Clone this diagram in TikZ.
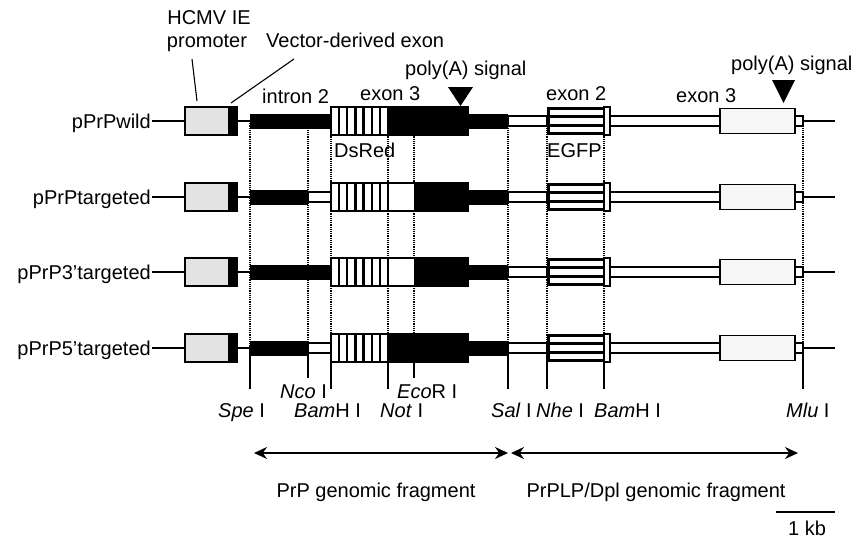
\documentclass[tikz,border=0pt]{standalone}
\usepackage{fontspec}
\setmainfont{Liberation Sans}
\usetikzlibrary{arrows.meta}
\newcommand\leftpart[1]{%
  \draw[wire] (152,#1) -- (835,#1);
  \fill[gray!22] (185,#1-14) rectangle (228,#1+14);
  \fill[black] (228,#1-14) rectangle (237,#1+14);
  \draw[ebox] (185,#1-14) rectangle (237,#1+14);
}
\newcommand\rightpart[1]{%
  \fill[black] (468,#1-7.5) rectangle (508,#1+7.5);
  \draw[hbar] (508,#1-5) rectangle (547,#1+5);
  \draw[hbar] (610,#1-5) rectangle (720,#1+5);
  \draw[hbar] (795,#1-5) rectangle (803,#1+5);
  \fill[white] (547,#1-14) rectangle (604,#1+14);
  \draw[line width=3pt] (547,#1-4.5) -- (604,#1-4.5);
  \draw[line width=3pt] (547,#1+4.5) -- (604,#1+4.5);
  \draw[line width=3pt] (548.5,#1-12.5) rectangle (604,#1+12.5);
  \draw[ebox,fill=white,line width=1.2pt] (604,#1-14) rectangle (610,#1+14);
  \draw[ebox,fill=gray!7] (720,#1-12.5) rectangle (795,#1+12.5);
}
\newcommand\dsred[1]{%
  \fill[white] (331,#1-14) rectangle (414,#1+14);
  \foreach \k in {1,...,6} {\draw[line width=2.4pt] ({331+\k*8.14},#1-14) -- ({331+\k*8.14},#1+14);}
  \draw[line width=1.5pt] (388,#1-14) -- (388,#1+14);
}
\newcommand\exframe[1]{\draw[ebox] (331,#1-14) rectangle (468,#1+14);}
\begin{document}
\begin{tikzpicture}[x=1pt,y=-1pt,
  lab/.style={inner sep=0pt, font=\fontsize{20}{22}\selectfont},
  wire/.style={line width=1.2pt},
  hbar/.style={fill=white, draw=black, line width=1.2pt},
  ebox/.style={draw=black, line width=1.5pt},
  site/.style={densely dotted, line width=1.2pt},
  sitesolid/.style={line width=1.2pt},
  fragarrow/.style={line width=1.3pt, {Stealth[length=13pt,width=12pt]}-{Stealth[length=13pt,width=12pt]}},
]
\useasboundingbox (0,0) rectangle (857,538);
\fill[white] (0,0) rectangle (857,538);

% restriction site lines
\foreach \xx in {250,308,331,388,414,508,547,604,803} {\draw[site] (\xx,121) -- (\xx,348);}
\foreach \xx in {250,331,388,508,547,604,803} {\draw[sitesolid] (\xx,348) -- (\xx,389);}
\foreach \xx in {308,414} {\draw[sitesolid] (\xx,348) -- (\xx,378);}

% row 1 wild
\leftpart{121}
\fill[black] (250,121-7.5) rectangle (331,121+7.5);
\dsred{121}
\fill[black] (388,107) rectangle (468,135);
\exframe{121}
\rightpart{121}
\fill (448,87) -- (473,87) -- (460.5,106) -- cycle;
\fill (772,80) -- (795,80) -- (783.5,103) -- cycle;

% row 2 targeted
\leftpart{197}
\fill[black] (250,197-7.5) rectangle (308,197+7.5);
\draw[hbar] (308,197-5) rectangle (331,197+5);
\dsred{197}
\fill[black] (414,183) rectangle (468,211);
\exframe{197}
\rightpart{197}

% row 3 3'targeted
\leftpart{272}
\fill[black] (250,272-7.5) rectangle (331,272+7.5);
\dsred{272}
\fill[black] (414,258) rectangle (468,286);
\exframe{272}
\rightpart{272}

% row 4 5'targeted
\leftpart{348}
\fill[black] (250,348-7.5) rectangle (308,348+7.5);
\draw[hbar] (308,348-5) rectangle (331,348+5);
\dsred{348}
\fill[black] (388,334) rectangle (468,362);
\exframe{348}
\rightpart{348}

% row labels
\node[lab,anchor=base east] (lw) at (151,128) {pPrPwild};
\node[lab,anchor=base east] (lt) at (151,204) {pPrPtargeted};
\node[lab,anchor=base east] (l3) at (151,279) {pPrP3’targeted};
\node[lab,anchor=base east] (l5) at (151,355) {pPrP5’targeted};

% top labels
\node[lab,anchor=base] (hcmv) at (209,24) {HCMV IE};
\node[lab,anchor=base] (prom) at (207,47) {promoter};
\node[lab,anchor=base west] (vde) at (266,47) {Vector-derived exon};
\node[lab,anchor=base west] (pa1) at (405,75) {poly(A) signal};
\node[lab,anchor=base west] (pa2) at (731,70) {poly(A) signal};
\node[lab,anchor=base west] (intr) at (262,103) {intron 2};
\node[lab,anchor=base west] (ex3a) at (360,100) {exon 3};
\node[lab,anchor=base west] (ex2) at (546,100) {exon 2};
\node[lab,anchor=base west] (ex3b) at (676,102) {exon 3};
\node[lab,anchor=base west] (dsr) at (334,157) {DsRed};
\node[lab,anchor=base west] (egfp) at (547,157) {EGFP};

\coordinate (promS) at (192,59);
\coordinate (promT) at (197,101);
\coordinate (vdeS) at (294,59);
\coordinate (vdeT) at (231,103);
\draw[line width=1.1pt] (promS) -- (promT);
\draw[line width=1.1pt] (vdeS) -- (vdeT);

% site labels
\node[lab,anchor=base west] (nco) at (280,398) {\textit{Nco} I};
\node[lab,anchor=base west] (eco) at (397,398) {\textit{Eco}R I};
\node[lab,anchor=base west] (spe) at (218,417) {\textit{Spe} I};
\node[lab,anchor=base west] (bam1) at (294,417) {\textit{Bam}H I};
\node[lab,anchor=base west] (not) at (380,417) {\textit{Not} I};
\node[lab,anchor=base west] (sal) at (491,417) {\textit{Sal} I};
\node[lab,anchor=base west] (nhe) at (536,417) {\textit{Nhe} I};
\node[lab,anchor=base west] (bam2) at (594,417) {\textit{Bam}H I};
\node[lab,anchor=base west] (mlu) at (786,417) {\textit{Mlu} I};

% fragments
\coordinate (fa) at (254,453);
\coordinate (fb) at (508,453);
\coordinate (fc) at (511,453);
\coordinate (fd) at (798,453);
\draw[fragarrow] (fa) -- (fb);
\draw[fragarrow] (fc) -- (fd);
\node[lab,anchor=base] (prpf) at (376,497) {PrP genomic fragment};
\node[lab,anchor=base] (dplf) at (656,497) {PrPLP/Dpl genomic fragment};

\coordinate (sba) at (776,512);
\coordinate (sbb) at (835,512);
\draw[line width=1.2pt] (sba) -- (sbb);
\node[lab,anchor=base] (kb) at (807,535) {1 kb};
\end{tikzpicture}
\end{document}
